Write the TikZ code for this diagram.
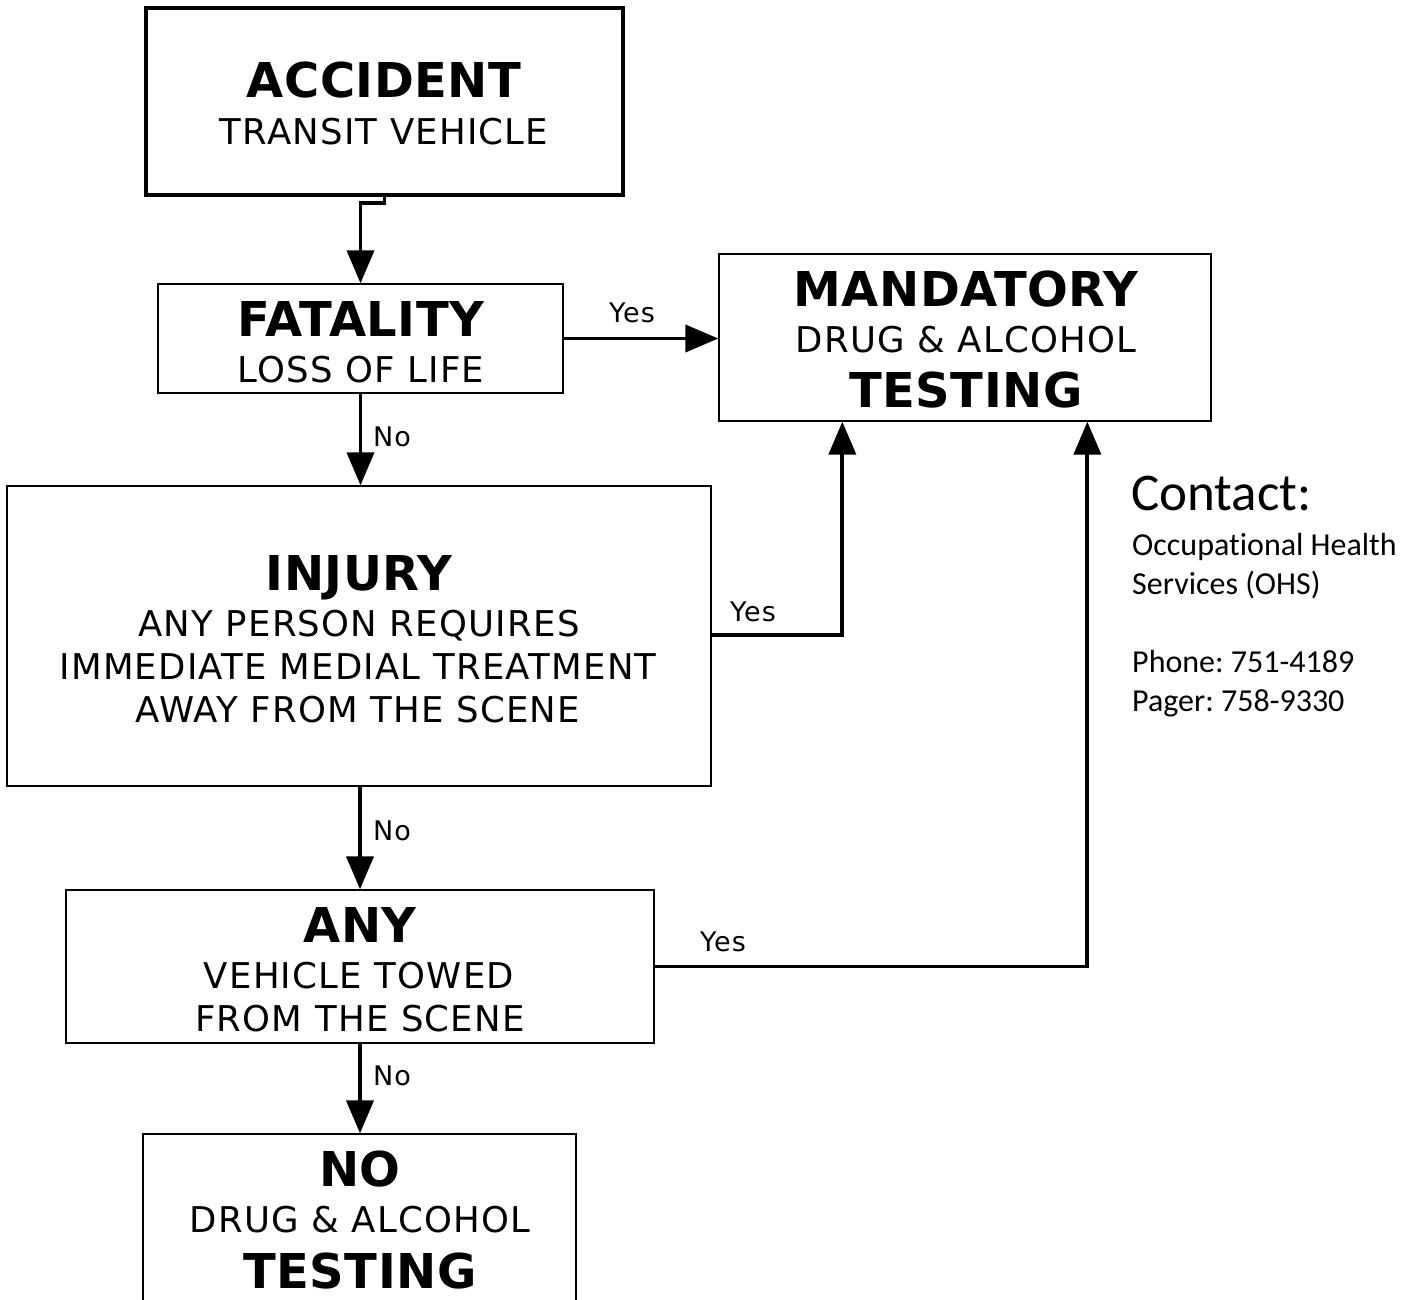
\documentclass[tikz,border=0pt]{standalone}
\usepackage{fontspec}
\setmainfont{DejaVu Sans}
\newfontfamily\calib[Ligatures=NoCommon]{Carlito}
\newfontfamily\subfont[LetterSpace=3.5]{DejaVu Sans}
\newfontfamily\lblfont[LetterSpace=4]{DejaVu Sans}
\newfontfamily\bigfont[LetterSpace=1]{DejaVu Sans Bold}
\usetikzlibrary{arrows.meta,calc}
\tikzset{
  box/.style={draw=black,line width=1.3pt,inner sep=0pt,fill=none},
  thickbox/.style={draw=black,line width=4pt,inner sep=0pt},
  arr/.style={line width=3.8pt,-{Triangle[length=33pt,width=27pt]}},
  big/.style={anchor=base,inner sep=0pt,font=\bigfont\fontsize{48}{56}\selectfont},
  sub/.style={anchor=base,inner sep=0pt,font=\subfont\fontsize{35.5}{42}\selectfont},
  lbl/.style={anchor=base,inner sep=0pt,font=\lblfont\fontsize{27}{30}\selectfont},
  ctc/.style={anchor=base west,inner sep=0pt,font=\calib\fontsize{32}{38}\selectfont},
}
\begin{document}
\frenchspacing
\begin{tikzpicture}[x=1pt,y=-1pt]
\useasboundingbox (0,0) rectangle (1414,1300);
\clip (0,0) rectangle (1414,1300);
% boxes
\node[thickbox,minimum width=477pt,minimum height=187pt] (acc) at (384.5,101.5) {};
\node[box,minimum width=405pt,minimum height=109pt] (fat) at (360.5,338.5) {};
\node[box,minimum width=492pt,minimum height=167pt] (mand) at (965,337.5) {};
\node[box,minimum width=704pt,minimum height=300pt] (inj) at (359,636) {};
\node[box,minimum width=588pt,minimum height=153pt] (any) at (360,966.5) {};
\node[box,minimum width=433pt,minimum height=240pt] (nob) at (359.5,1254) {};
% texts
\node[big] (t1) at (384,98) {ACCIDENT};
\node[sub] (t2) at (384,145) {TRANSIT VEHICLE};
\node[big] (t3) at (361,336) {FATALITY};
\node[sub] (t4) at (361,382) {LOSS OF LIFE};
\node[big] (t5) at (966,306) {MANDATORY};
\node[sub] (t6) at (966,352) {DRUG \& ALCOHOL};
\node[big] (t7) at (966,407) {TESTING};
\node[big] (t8) at (359,590) {INJURY};
\node[sub] (t9) at (359,636) {ANY PERSON REQUIRES};
\node[sub] (t10) at (358,679) {IMMEDIATE MEDIAL TREATMENT};
\node[sub] (t11) at (358,722) {AWAY FROM THE SCENE};
\node[big] (t12) at (360,942) {ANY};
\node[sub] (t13) at (359,988) {VEHICLE TOWED};
\node[sub] (t14) at (360,1031) {FROM THE SCENE};
\node[big] (t15) at (360,1186) {NO};
\node[sub] (t16) at (360,1232) {DRUG \& ALCOHOL};
\node[big] (t17) at (360,1288) {TESTING};
% contact
\node[anchor=base west,inner sep=0pt,font=\calib\fontsize{53}{60}\selectfont] (c1) at (1131,510) {Contact:};
\node[ctc] (c2) at (1132,555) {Occupational Health};
\node[ctc] (c3) at (1132,594) {Services (OHS)};
\node[ctc] (c4) at (1132,672) {Phone: 751-4189};
\node[ctc] (c5) at (1132,711) {Pager: 758-9330};
% connectors
\draw[arr] (acc.south) -- ++(0,6) -| (fat.north);
\draw[arr] (fat.east) -- (fat.east -| mand.west);
\draw[arr] (fat.south) -- (fat.south |- inj.north);
\draw[arr] (inj.east |- 0,635) -| ([xshift=124pt]mand.south west);
\draw[arr] (inj.south -| 360,0) -- (any.north);
\draw[arr] (any.east) -| ([xshift=369pt]mand.south west);
\draw[arr] (any.south) -- (any.south |- nob.north);
% labels
\node[lbl] (y1) at (632,322) {Yes};
\node[lbl] (n1) at (392,446) {No};
\node[lbl] (y2) at (753,621) {Yes};
\node[lbl] (n2) at (392,840) {No};
\node[lbl] (y3) at (723,951) {Yes};
\node[lbl] (n3) at (392,1085) {No};
\end{tikzpicture}
\end{document}
